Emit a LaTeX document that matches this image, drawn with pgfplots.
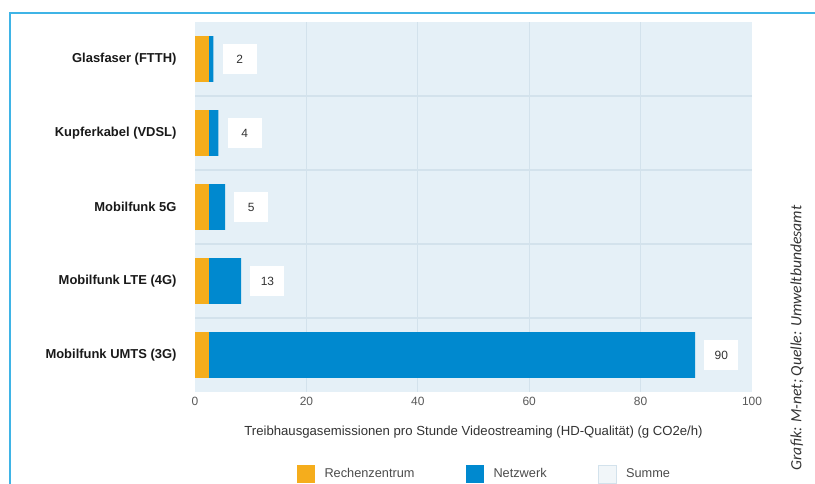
\documentclass[border=0pt]{standalone}
\usepackage{pgfplots}
\pgfplotsset{compat=1.18}
\usepackage{fontspec}
\setmainfont{Liberation Sans}
\newfontfamily\carlito{Carlito}
\definecolor{orangeR}{HTML}{F5AD1C}
\definecolor{blueN}{HTML}{0089CF}
\definecolor{bgblue}{HTML}{E5F0F7}
\definecolor{gridc}{HTML}{D3E2EC}
\definecolor{frameblue}{HTML}{3FB4E6}
\definecolor{summec}{HTML}{F1F6F9}
\pgfplotsset{geom/.style={at={(195bp,92bp)}, anchor=south west,
  width=557bp, height=370bp, scale only axis,
  xmin=0, xmax=100, ymin=-0.5, ymax=4.5, y dir=reverse}}
\begin{document}
\begin{tikzpicture}
\useasboundingbox (0bp,0bp) rectangle (815bp,484bp);
\fill[white] (0bp,0bp) rectangle (815bp,484bp);
\draw[frameblue, line width=2.2bp] (10bp,0bp) -- (10bp,471bp) -- (815bp,471bp);
\node[rotate=90, font=\carlito\itshape\fontsize{15.7}{18}\selectfont, text=black!80] at (797bp,146bp) {Grafik: M-net; Quelle: Umweltbundesamt};
\begin{axis}[
  geom,
  xbar stacked, bar width=0.62,
  ytick={0,1,2,3,4},
  yticklabels={Glasfaser (FTTH),Kupferkabel (VDSL),Mobilfunk 5G,Mobilfunk LTE (4G),Mobilfunk UMTS (3G)},
  minor ytick={0.5,1.5,2.5,3.5},
  xtick={0,20,40,60,80,100},
  minor xtick={20,40,60,80},
  xminorgrids, yminorgrids,
  minor grid style={gridc, line width=1.3bp},
  axis line style={draw=none},
  major tick length=0pt, minor tick length=0pt,
  axis background/.style={fill=bgblue},
  /pgf/number format/assume math mode=true,
  yticklabel style={font=\bfseries\fontsize{13}{15}\selectfont, text=black!90, xshift=-15bp},
  xticklabel style={font=\fontsize{12}{14}\selectfont, text=black!65, yshift=-2bp},
  xlabel={Treibhausgasemissionen pro Stunde Videostreaming (HD-Qualität) (g CO2e/h)},
  xlabel style={at={(axis description cs:0.5,-0.108)}, anchor=center, font=\fontsize{13.2}{15}\selectfont, text=black!80},
  legend style={at={(0.522,-0.2216)}, anchor=center, draw=none, fill=none, legend columns=3,
    font=\fontsize{12.8}{15}\selectfont, text=black!70,
    nodes={inner xsep=4.5bp},
    /tikz/every odd column/.append style={column sep=5bp},
    /tikz/every even column/.append style={column sep=47bp}},
  legend image code/.code={\draw[#1, draw=none] (0bp,-9bp) rectangle (18bp,9bp);},
]
\addplot[fill=orangeR, draw=none] coordinates {(2.5,0) (2.5,1) (2.5,2) (2.5,3) (2.5,4)};
\addlegendentry{Rechenzentrum}
\addplot[fill=blueN, draw=none] coordinates {(0.8,0) (1.7,1) (2.9,2) (5.8,3) (87.3,4)};
\addlegendentry{Netzwerk}
\addplot[draw=none, fill=none,
  legend image code/.code={\draw[fill=summec, draw=gridc] (0bp,-9bp) rectangle (18bp,9bp);}]
  coordinates {(0,0) (0,1) (0,2) (0,3) (0,4)};
\addlegendentry{Summe}
\end{axis}
\begin{axis}[geom, hide axis]
\addplot[draw=none, mark=none, nodes near coords, point meta=explicit symbolic,
  every node near coord/.append style={fill=white, text=black!80, inner sep=0pt, minimum width=34bp, minimum height=30bp, anchor=west, xshift=9bp, font=\fontsize{12}{14}\selectfont}]
  coordinates {(3.3,0) [2] (4.2,1) [4] (5.4,2) [5] (8.3,3) [13] (89.8,4) [90]};
\end{axis}
\end{tikzpicture}
\end{document}
